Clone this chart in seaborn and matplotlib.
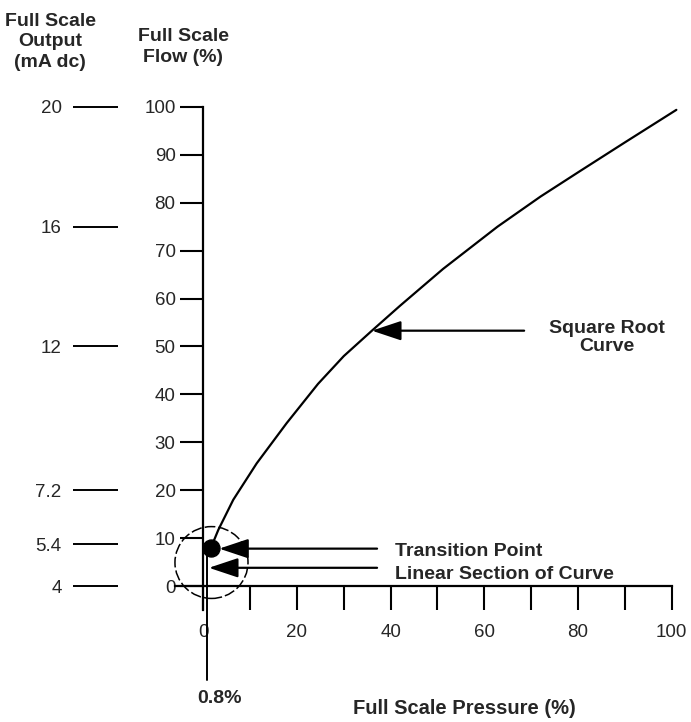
import numpy as np
import pandas as pd
import matplotlib
matplotlib.use("Agg")
import matplotlib.pyplot as plt
from matplotlib.patches import Ellipse
import seaborn as sns

# values
pressure = [1.6, 3.2, 6.4, 11.4, 17.8, 24.5, 30.0, 36.0, 42.0, 51.2, 62.8, 72.0, 80.4, 90.0, 101.0]
flow = [7.9, 11.7, 18.0, 25.6, 34.0, 42.2, 48.0, 53.3, 58.5, 66.2, 75.0, 81.3, 86.6, 92.6, 99.4]
transition = (1.6, 7.9)
cutoff_pressure = 0.8
flow_ticks = list(range(0, 101, 10))
pressure_major = [0, 20, 40, 60, 80, 100]
pressure_minor = [10, 30, 50, 70, 90]
ma_ticks = [4, 5.4, 7.2, 12, 16, 20]
ma_labels = ["4", "5.4", "7.2", "12", "16", "20"]

sns.set_theme(style="white")
plt.rcParams["font.family"] = ["Liberation Sans", "DejaVu Sans"]

df = pd.DataFrame({"pressure": pressure, "flow": flow})

fig = plt.figure(figsize=(6.91, 7.22), dpi=100)
ax = fig.add_axes([0.2603, 0.0225, 0.7253, 0.8625])
ax.set_xlim(-5, 102)
ax.set_ylim(-25, 105)

sns.lineplot(data=df, x="pressure", y="flow", ax=ax, color="black", lw=1.6)
# linear section plus the 0.8% marker below the axis
ax.plot([cutoff_pressure, cutoff_pressure], [-19.6, transition[1]], color="black", lw=1.4)
sns.scatterplot(x=[transition[0]], y=[transition[1]], ax=ax, s=150, color="black",
                edgecolor="black", zorder=5)
ax.add_patch(Ellipse((1.75, 4.9), 15.6, 15.0, fill=False, ec="black", lw=1.1,
                     ls=(0, (7, 2)), clip_on=False))

# spines as the drawn axes
for s in ["top", "right"]:
    ax.spines[s].set_visible(False)
ax.spines["left"].set_position(("data", 0))
ax.spines["bottom"].set_position(("data", 0))
ax.spines["left"].set_bounds(-5, 100)
ax.spines["bottom"].set_bounds(-6, 100)
for s in ["left", "bottom"]:
    ax.spines[s].set_linewidth(1.6)
    ax.spines[s].set_color("black")

ax.set_yticks(flow_ticks)
ax.set_xticks(pressure_major)
ax.set_xticks(pressure_minor, minor=True)
ax.tick_params(axis="y", direction="out", length=16.5, width=1.5, pad=3.5,
               labelsize=13.5, color="black", left=True)
ax.tick_params(axis="x", which="both", direction="out", length=17, width=1.5,
               pad=10, labelsize=13.5, color="black", bottom=True)

ax.set_xlabel("Full Scale Pressure (%)", fontsize=14.5, fontweight="bold")
ax.xaxis.set_label_coords(0.567, -0.004)
ax.xaxis.label.set_va("center")
ax.set_ylabel("Full Scale\nFlow (%)", fontsize=14, fontweight="bold", rotation=0,
              ha="center", va="center", linespacing=1.3)
ax.yaxis.set_label_coords(0.0072, 1.058)

# mA dc output scale
sec = ax.secondary_yaxis(-0.1235, functions=(lambda f: 4 + f * 0.16,
                                              lambda m: (m - 4) / 0.16))
sec.spines["left"].set_visible(False)
sec.set_yticks(ma_ticks)
sec.set_yticklabels(ma_labels)
sec.tick_params(axis="y", direction="out", length=32.5, width=1.4, pad=8,
                labelsize=13.5, color="black")
ax.text(-0.259, 1.066, "Full Scale\nOutput\n(mA dc)", transform=ax.transAxes,
        fontsize=14, fontweight="bold", ha="center", va="center", linespacing=1.3)

arrow = dict(arrowstyle="-|>,head_length=0.9,head_width=0.3", color="black",
             lw=1.6, shrinkA=0, shrinkB=0, mutation_scale=20)
ax.annotate("", xy=(36.0, 53.3), xytext=(68.5, 53.3), arrowprops=arrow)
ax.text(86.2, 51.9, "Square Root\nCurve", ha="center", va="center", fontsize=14,
        fontweight="bold", linespacing=1.05)
ax.annotate("", xy=(3.4, 7.8), xytext=(37.1, 7.8), arrowprops=arrow)
ax.text(40.9, 7.3, "Transition Point", ha="left", va="center", fontsize=14,
        fontweight="bold")
ax.annotate("", xy=(1.2, 3.8), xytext=(37.1, 3.8), arrowprops=arrow)
ax.text(40.9, 2.3, "Linear Section of Curve", ha="left", va="center", fontsize=14,
        fontweight="bold")
ax.text(cutoff_pressure + 2.6, -23.4, "0.8%", ha="center", va="center", fontsize=14,
        fontweight="bold")

fig.savefig("out.png", dpi=100)
